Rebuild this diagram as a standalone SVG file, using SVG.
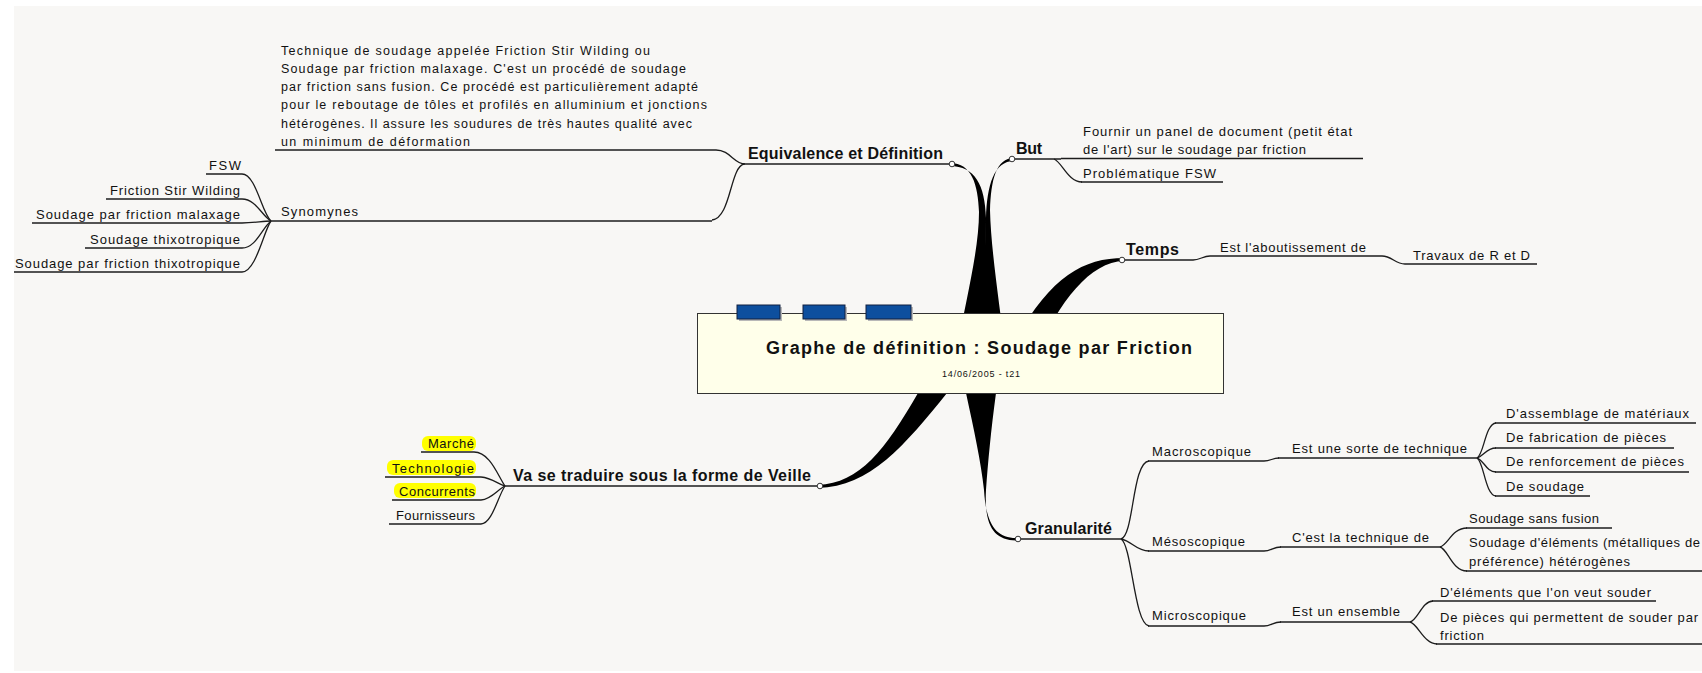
<svg xmlns="http://www.w3.org/2000/svg" width="1702" height="673" viewBox="0 0 1702 673">
<style>
.t{font-family:"Liberation Sans",Arial,sans-serif;font-size:13px;fill:#111}
.d{font-size:12.5px}
.b{font-family:"Liberation Sans",Arial,sans-serif;font-size:16px;font-weight:bold;fill:#111}
.u{stroke:#1c1c1c;stroke-width:1.5;fill:none}
.c{stroke:#1c1c1c;stroke-width:1.3;fill:none}
.k{fill:#000}
.o{fill:#fff;stroke:#333;stroke-width:1}
.hl{fill:#ffff00}
.tab{fill:#0d4f9e;stroke:#102040;stroke-width:1}
.sh{fill:#b8b8b8}
</style>
<rect x="0" y="0" width="1702" height="673" fill="#ffffff"/>
<rect x="14" y="6" width="1688" height="665" fill="#f8f7f5"/>

<g id="connectors">
  <!-- thick main branches -->
  <path class="k" d="M950,163 C972,163 978,185 979,212 C979,250 966,300 955,358 L984,358 C985,300 986,250 986,218 C985,185 975,166 950,166 Z"/>
  <path class="k" d="M1014,158 C996,158 991,180 990,210 C991,250 999,300 1006,358 L978,358 C983,300 985,250 986,218 C987,185 994,161 1014,161 Z"/>
  <path class="k" d="M1124,258 C1080,258 1045,280 1006,358 L1034,358 C1060,300 1090,262 1124,261 Z"/>
  <path class="k" d="M818,485 C860,483 885,450 918,393 L943,358 L972,358 L947,393 C905,445 870,487 818,488 Z"/>
  <path class="k" d="M962,358 L966,393 C974,430 981,462 984,490 C986,524 996,538 1016,538 L1016,540.5 C994,540 984,526 986,490 C988,462 991,430 996,393 L1000,358 Z"/>
  <!-- Equivalence children -->
  <path class="c" d="M716,150 C730,150 734,164 745,164"/>
  <path class="c" d="M744,164 C730,167 731,218 712,220"/>
  <!-- Synomynes fan -->
  <path class="c" d="M242,174 C256,174 262,214 271,221"/>
  <path class="c" d="M242,199 C256,199 262,216 271,221"/>
  <path class="c" d="M242,223 C255,223 262,221 271,221"/>
  <path class="c" d="M242,248 C256,248 262,228 271,221"/>
  <path class="c" d="M242,272 C256,272 264,230 271,221"/>
  <!-- But -->
  <path class="c" d="M1054,159 C1062,162 1068,182 1082,182"/>
  <!-- Temps -->
  <path class="c" d="M1193,260 C1200,260 1203,256 1210,256"/>
  <path class="c" d="M1382,256 C1392,256 1395,264 1405,264"/>
  <!-- Veille fan -->
  <path class="c" d="M474,452 C490,452 498,476 505,486"/>
  <path class="c" d="M481,477 C492,478 498,484 505,486"/>
  <path class="c" d="M481,500 C492,499 498,489 505,486"/>
  <path class="c" d="M481,524 C492,524 498,496 505,486"/>
  <!-- Granularite -->
  <path class="c" d="M1121,539 C1134,536 1132,462 1149,461"/>
  <path class="c" d="M1121,539 C1132,541 1136,551 1149,551"/>
  <path class="c" d="M1121,539 C1132,545 1134,624 1149,626"/>
  <path class="c" d="M1264,461 C1271,461 1272,458 1279,458"/>
  <path class="c" d="M1264,551 C1271,551 1273,547 1281,547"/>
  <path class="c" d="M1264,626 C1271,626 1273,622 1281,622"/>
  <path class="c" d="M1477,458 C1484,455 1485,424 1496,423"/>
  <path class="c" d="M1477,458 C1484,456 1486,448 1496,448"/>
  <path class="c" d="M1477,458 C1484,460 1486,472 1496,472"/>
  <path class="c" d="M1477,458 C1484,462 1485,495 1496,496"/>
  <path class="c" d="M1440,547 C1448,545 1452,528 1467,528"/>
  <path class="c" d="M1440,547 C1448,549 1452,571 1467,571"/>
  <path class="c" d="M1410,622 C1418,620 1422,601 1433,601"/>
  <path class="c" d="M1410,622 C1418,624 1424,644 1437,644"/>
</g>

<g id="root">
  <rect x="697.5" y="313.5" width="526" height="80" fill="#ffffea" stroke="#333" stroke-width="1"/>
  <rect class="sh" x="739" y="307" width="43" height="14"/>
  <rect class="tab" x="737" y="305" width="43" height="14"/>
  <rect class="sh" x="805" y="307" width="42" height="14"/>
  <rect class="tab" x="803" y="305" width="42" height="14"/>
  <rect class="sh" x="868" y="307" width="45" height="14"/>
  <rect class="tab" x="866" y="305" width="45" height="14"/>
  <text x="766" y="354" textLength="426" style="font-family:'Liberation Sans',Arial,sans-serif;font-size:18px;font-weight:bold;fill:#111">Graphe de définition : Soudage par Friction</text>
  <text x="942" y="377" textLength="78" style="font-family:'Liberation Sans',Arial,sans-serif;font-size:9px;fill:#111">14/06/2005 - t21</text>
</g>

<g id="n-equivalence">
  <path class="u" d="M742,164 H950"/>
  <text class="b" x="748" y="159" textLength="195">Equivalence et Définition</text>
  <circle class="o" cx="952" cy="164" r="2.8"/>
</g>
<g id="n-description">
  <path class="u" d="M275,150 H716"/>
  <text class="t d" x="281" y="54.5" textLength="369">Technique de soudage appelée Friction Stir Wilding ou</text>
  <text class="t d" x="281" y="72.8" textLength="405">Soudage par friction malaxage. C'est un procédé de soudage</text>
  <text class="t d" x="281" y="91.1" textLength="417">par friction sans fusion. Ce procédé est particulièrement adapté</text>
  <text class="t d" x="281" y="109.4" textLength="426">pour le reboutage de tôles et profilés en alluminium et jonctions</text>
  <text class="t d" x="281" y="127.7" textLength="411">hétérogènes. Il assure les soudures de très hautes qualité avec</text>
  <text class="t d" x="281" y="146" textLength="189">un minimum de déformation</text>
</g>
<g id="n-synomynes">
  <path class="u" d="M271,221 H712"/>
  <text class="t" x="281" y="216" textLength="77">Synomynes</text>
</g>
<g id="n-fsw"><path class="u" d="M206,174 H242"/><text class="t" x="209" y="170" textLength="32">FSW</text></g>
<g id="n-fsw2"><path class="u" d="M106,199 H242"/><text class="t" x="110" y="195" textLength="130">Friction Stir Wilding</text></g>
<g id="n-malaxage"><path class="u" d="M32,223 H242"/><text class="t" x="36" y="219" textLength="204">Soudage par friction malaxage</text></g>
<g id="n-thixo"><path class="u" d="M85,248 H242"/><text class="t" x="90" y="244" textLength="150">Soudage thixotropique</text></g>
<g id="n-thixo2"><path class="u" d="M14,272 H242"/><text class="t" x="15" y="268" textLength="225">Soudage par friction thixotropique</text></g>

<g id="n-but">
  <path class="u" d="M1015,159 H1061"/>
  <text class="b" x="1016" y="154" textLength="26">But</text>
  <circle class="o" cx="1012" cy="159" r="2.8"/>
</g>
<g id="n-fournir">
  <path class="u" d="M1061,158.5 H1363"/>
  <text class="t" x="1083" y="136" textLength="269">Fournir un panel de document (petit état</text>
  <text class="t" x="1083" y="154" textLength="223">de l'art) sur le soudage par friction</text>
</g>
<g id="n-problematique">
  <path class="u" d="M1081,182 H1223"/>
  <text class="t" x="1083" y="178" textLength="133">Problématique FSW</text>
</g>

<g id="n-temps">
  <path class="u" d="M1125,260 H1193"/>
  <text class="b" x="1126" y="255" textLength="53">Temps</text>
  <circle class="o" cx="1122" cy="260" r="2.8"/>
</g>
<g id="n-aboutissement">
  <path class="u" d="M1210,256 H1382"/>
  <text class="t" x="1220" y="252" textLength="146">Est l'aboutissement de</text>
</g>
<g id="n-travaux">
  <path class="u" d="M1405,264 H1537"/>
  <text class="t" x="1413" y="260" textLength="117">Travaux de R et D</text>
</g>

<g id="n-veille">
  <path class="u" d="M505,486 H817"/>
  <text class="b" x="513" y="481" textLength="298">Va se traduire sous la forme de Veille</text>
  <circle class="o" cx="820" cy="486" r="2.8"/>
</g>
<g id="n-marche">
  <rect class="hl" x="422" y="436" width="54" height="15" rx="6"/>
  <path class="u" d="M421,452 H474"/>
  <text class="t" x="428" y="448" textLength="46">Marché</text>
</g>
<g id="n-technologie">
  <rect class="hl" x="387" y="460" width="89" height="15" rx="6"/>
  <path class="u" d="M385,477 H481"/>
  <text class="t" x="392" y="473" textLength="82">Technologie</text>
</g>
<g id="n-concurrents">
  <rect class="hl" x="394" y="483" width="82" height="15" rx="6"/>
  <path class="u" d="M392,500 H481"/>
  <text class="t" x="399" y="496" textLength="76">Concurrents</text>
</g>
<g id="n-fournisseurs">
  <path class="u" d="M389,524 H481"/>
  <text class="t" x="396" y="520" textLength="79">Fournisseurs</text>
</g>

<g id="n-granularite">
  <path class="u" d="M1021,539 H1121"/>
  <text class="b" x="1025" y="534" textLength="87">Granularité</text>
  <circle class="o" cx="1018" cy="539" r="2.8"/>
</g>
<g id="n-macro">
  <path class="u" d="M1148,461 H1264"/>
  <text class="t" x="1152" y="456" textLength="99">Macroscopique</text>
</g>
<g id="n-sorte">
  <path class="u" d="M1278,458 H1477"/>
  <text class="t" x="1292" y="453" textLength="175">Est une sorte de technique</text>
</g>
<g id="n-assemblage"><path class="u" d="M1495,423 H1696"/><text class="t" x="1506" y="418" textLength="183">D'assemblage de matériaux</text></g>
<g id="n-fabrication"><path class="u" d="M1495,448 H1674"/><text class="t" x="1506" y="442" textLength="160">De fabrication de pièces</text></g>
<g id="n-renforcement"><path class="u" d="M1495,472 H1689"/><text class="t" x="1506" y="466" textLength="178">De renforcement de pièces</text></g>
<g id="n-soudage"><path class="u" d="M1495,496 H1590"/><text class="t" x="1506" y="491" textLength="78">De soudage</text></g>

<g id="n-meso">
  <path class="u" d="M1148,551 H1264"/>
  <text class="t" x="1152" y="546" textLength="93">Mésoscopique</text>
</g>
<g id="n-technique">
  <path class="u" d="M1280,547 H1440"/>
  <text class="t" x="1292" y="542" textLength="137">C'est la technique de</text>
</g>
<g id="n-sansfusion"><path class="u" d="M1466,528 H1612"/><text class="t" x="1469" y="523" textLength="130">Soudage sans fusion</text></g>
<g id="n-elements">
  <path class="u" d="M1466,571 H1702"/>
  <text class="t" x="1469" y="547" textLength="231">Soudage d'éléments (métalliques de</text>
  <text class="t" x="1469" y="566" textLength="161">préférence) hétérogènes</text>
</g>

<g id="n-micro">
  <path class="u" d="M1148,626 H1264"/>
  <text class="t" x="1152" y="620" textLength="94">Microscopique</text>
</g>
<g id="n-ensemble">
  <path class="u" d="M1280,622 H1410"/>
  <text class="t" x="1292" y="616" textLength="108">Est un ensemble</text>
</g>
<g id="n-souder"><path class="u" d="M1432,601 H1656"/><text class="t" x="1440" y="597" textLength="211">D'éléments que l'on veut souder</text></g>
<g id="n-pieces">
  <path class="u" d="M1436,644 H1702"/>
  <text class="t" x="1440" y="622" textLength="258">De pièces qui permettent de souder par</text>
  <text class="t" x="1440" y="640" textLength="44">friction</text>
</g>
</svg>
